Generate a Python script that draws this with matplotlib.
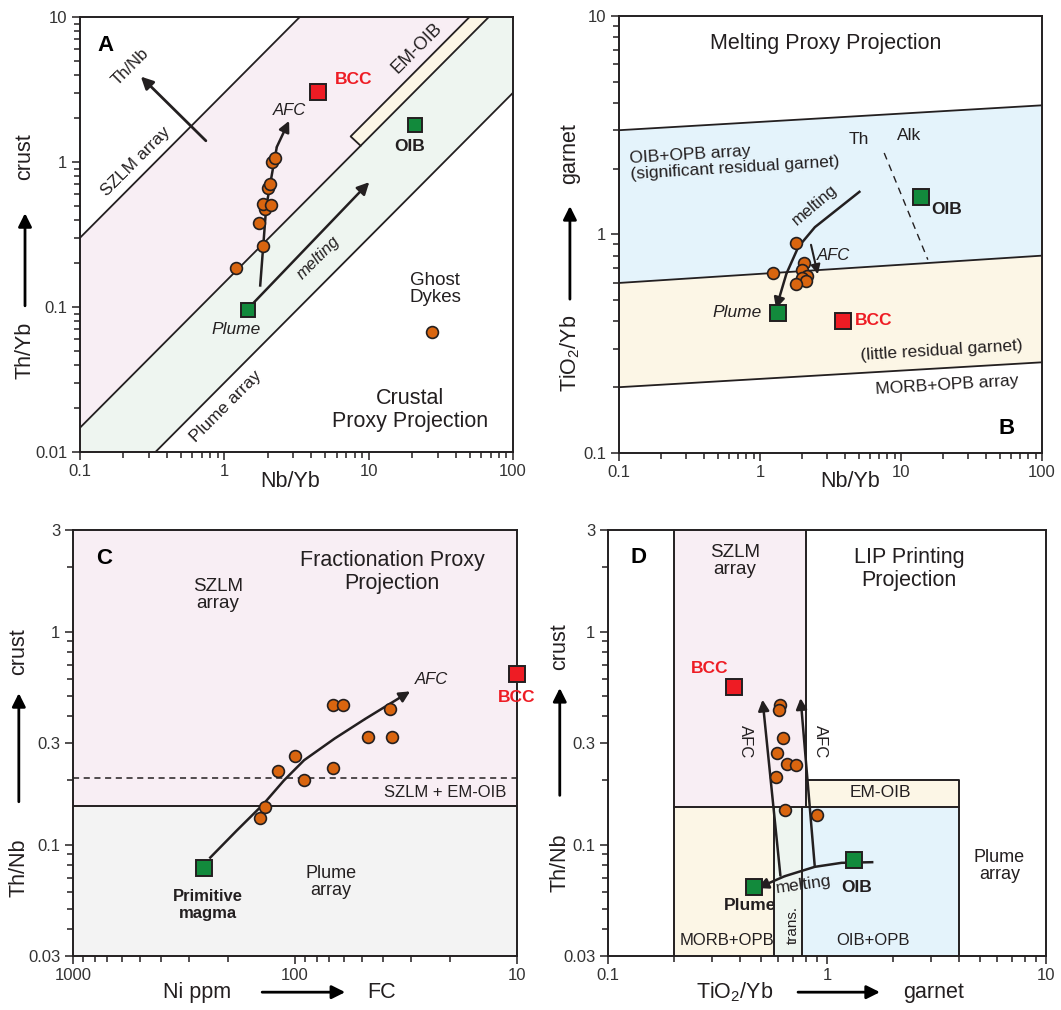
#!/usr/bin/env python3
"""
Four-panel proxy projection diagrams (crustal, melting, fractionation, LIP printing)
"""
import matplotlib
matplotlib.use('Agg')
import matplotlib.pyplot as plt
from matplotlib.ticker import NullFormatter

plt.rcParams['font.family'] = ['Liberation Sans', 'DejaVu Sans']
plt.rcParams['mathtext.fontset'] = 'custom'
plt.rcParams['mathtext.rm'] = 'Liberation Sans'
plt.rcParams['mathtext.it'] = 'Liberation Sans:italic'

# colours
PINK = '#f8eef4'
MINT = '#eef5f0'
CREAM = '#fcf6e6'
BLUE = '#e4f3fb'
GREY = '#f3f3f3'
ORANGE = '#d9650f'
SQ_GREEN = '#128a3c'
SQ_RED = '#ee1c24'
INK = '#231f20'

# ---------------- Panel A: Th/Yb vs Nb/Yb ----------------
a_nb = [1.21, 1.86, 1.75, 1.91, 1.86, 2.11, 2.02, 2.08, 2.13, 2.23]
a_th = [0.187, 0.265, 0.38, 0.475, 0.514, 0.506, 0.66, 0.70, 1.0, 1.07]
a_ghost_nb, a_ghost_th = [27.4], [0.0675]
a_bcc = (4.49, 3.05)
a_oib = (21.1, 1.81)
a_plume = (1.46, 0.095)
a_afc_nb = [1.77, 1.95, 2.14, 2.31, 2.81]
a_afc_th = [0.138, 0.487, 0.83, 1.27, 1.92]
a_melt = [(1.41, 0.094), (10.1, 0.726)]
a_thnb_arrow = [(0.745, 1.40), (0.264, 3.88)]
# array boundaries: Th/Yb = k * Nb/Yb
k_szlm, k_plume_hi, k_plume_lo, k_emoib = 3.0, 0.147, 0.03, 0.2
emoib_start, emoib_cap = 7.5, 8.8

# ---------------- Panel B: TiO2/Yb vs Nb/Yb ----------------
b_nb = [1.79, 1.23, 2.06, 1.97, 2.14, 2.0, 2.11, 1.81]
b_ti = [0.918, 0.667, 0.741, 0.69, 0.644, 0.634, 0.612, 0.591]
b_bcc = (3.87, 0.402)
b_oib = (13.9, 1.48)
b_plume = (1.34, 0.438)
b_upper = [(0.1, 3.0), (100, 3.9)]
b_middle = [(0.1, 0.6), (100, 0.8)]
b_lower = [(0.1, 0.2), (100, 0.26)]
b_thalk = [(7.6, 2.36), (15.5, 0.767)]
b_melt_nb = [5.15, 2.45, 1.87, 1.54, 1.30]
b_melt_ti = [1.58, 1.08, 0.877, 0.662, 0.458]
b_afc = [(2.30, 0.897), (2.57, 0.658)]

# ---------------- Panel C: Th/Nb vs Ni ppm ----------------
c_ni = [119.6, 100.3, 91.0, 67.5, 61.1, 67.5, 47.1, 36.5, 37.4, 136.2, 143.6]
c_thnb = [0.222, 0.261, 0.202, 0.452, 0.452, 0.229, 0.321, 0.321, 0.433, 0.150, 0.134]
c_bcc = (10.0, 0.633)
c_prim = (256.5, 0.0778)
c_afc_ni = [243, 183.6, 138.7, 112.2, 91.0, 66.2, 48.3, 30.3]
c_afc_thnb = [0.0861, 0.116, 0.155, 0.200, 0.249, 0.315, 0.389, 0.524]
c_szlm_floor = 0.152
c_emoib_line = 0.205

# ---------------- Panel D: Th/Nb vs TiO2/Yb ----------------
d_ti = [0.613, 0.602, 0.632, 0.590, 0.656, 0.726, 0.584, 0.646, 0.904]
d_thnb = [0.453, 0.428, 0.317, 0.269, 0.240, 0.236, 0.208, 0.146, 0.138]
d_bcc = (0.376, 0.55)
d_oib = (1.33, 0.0842)
d_plume = (0.466, 0.0632)
d_melt_ti = [1.63, 1.166, 0.879, 0.640, 0.482]
d_melt_thnb = [0.0827, 0.0821, 0.0786, 0.0710, 0.0625]
d_afc_left = [(0.613, 0.0715), (0.508, 0.479)]
d_afc_right = [(0.879, 0.0798), (0.758, 0.487)]
# region edges (TiO2/Yb, Th/Nb)
d_x_morb, d_x_trans, d_x_szlm, d_x_oib, d_x_max = 0.2, 0.575, 0.77, 4.0, 10
d_x_szlm_right = 0.805
d_y_plume_top, d_y_emoib_top = 0.15, 0.202


def style_axes(ax, xlim, ylim, xticks, xlabels, yticks, ylabels):
    ax.set_xscale('log')
    ax.set_yscale('log')
    ax.set_xlim(*xlim)
    ax.set_ylim(*ylim)
    ax.set_xticks(xticks, xlabels)
    ax.set_yticks(yticks, ylabels)
    ax.xaxis.set_minor_formatter(NullFormatter())
    ax.yaxis.set_minor_formatter(NullFormatter())
    ax.tick_params(which='both', direction='out', color=INK, labelcolor='#333333',
                   labelsize=12, width=1.1)
    ax.tick_params(which='major', length=6, pad=3)
    ax.tick_params(which='minor', length=4)
    for s in ax.spines.values():
        s.set_linewidth(1.4)
        s.set_color(INK)


def side_label(ax, x, y_lab, y0, y1, y_top, label, top):
    kw = dict(transform=ax.transAxes, rotation=90, ha='center', va='center',
              fontsize=15.5, color=INK)
    ax.text(x, y_lab, label, **kw)
    ax.text(x, y_top, top, **kw)
    ax.annotate('', xy=(x, y1), xytext=(x, y0), xycoords='axes fraction',
                arrowprops=dict(arrowstyle='-|>', color='black', lw=2.0,
                                mutation_scale=20, shrinkA=0, shrinkB=0))


def bottom_label(ax, y, x_lab, x0, x1, x_right, label, right):
    kw = dict(transform=ax.transAxes, ha='center', va='center', fontsize=15.5, color=INK)
    ax.text(x_lab, y, label, **kw)
    ax.text(x_right, y, right, **kw)
    ax.annotate('', xy=(x1, y), xytext=(x0, y), xycoords='axes fraction',
                arrowprops=dict(arrowstyle='-|>', color='black', lw=2.0,
                                mutation_scale=20, shrinkA=0, shrinkB=0))


def arrow(ax, start, end, lw=1.8, ms=16):
    ax.annotate('', xy=end, xytext=start,
                arrowprops=dict(arrowstyle='-|>', color=INK, lw=lw,
                                mutation_scale=ms, shrinkA=0, shrinkB=0), zorder=6)


def curve_arrow(ax, xs, ys, lw=1.8, ms=16):
    ax.plot(xs[:-1], ys[:-1], color=INK, lw=lw, zorder=6, solid_capstyle='butt')
    arrow(ax, (xs[-2], ys[-2]), (xs[-1], ys[-1]), lw=lw, ms=ms)


def samples(ax, xs, ys, clip=True):
    ax.plot(xs, ys, 'o', ms=8.5, mfc=ORANGE, mec=INK, mew=1.2, zorder=7, clip_on=clip)


def square(ax, pt, color, size=11.5, clip=True):
    ax.plot([pt[0]], [pt[1]], 's', ms=size, mfc=color, mec=INK, mew=1.4, zorder=8, clip_on=clip)


fig = plt.figure(figsize=(10.61, 10.10), dpi=100)
axA = fig.add_axes([0.0754, 0.5525, 0.4081, 0.4307])
axB = fig.add_axes([0.5834, 0.5515, 0.3987, 0.4327])
axC = fig.add_axes([0.0688, 0.0535, 0.4185, 0.4218])
axD = fig.add_axes([0.5730, 0.0535, 0.4128, 0.4218])

# ======================= A =======================
ax = axA
style_axes(ax, (0.1, 100), (0.01, 10), [0.1, 1, 10, 100], ['0.1', '1', '10', '100'],
           [0.01, 0.1, 1, 10], ['0.01', '0.1', '1', '10'])
x_szlm_top = 10 / k_szlm
x_emoib_top = 10 / k_emoib
x_plume_top = 10 / k_plume_hi
x_plume_bot = 0.01 / k_plume_lo
pink = [(0.1, 0.1 * k_szlm), (x_szlm_top, 10), (x_emoib_top, 10),
        (emoib_start, emoib_start * k_emoib), (emoib_cap, emoib_cap * k_plume_hi),
        (0.1, 0.1 * k_plume_hi)]
mint = [(0.1, 0.1 * k_plume_hi), (x_plume_top, 10), (100, 10), (100, 100 * k_plume_lo),
        (x_plume_bot, 0.01), (0.1, 0.01)]
emo = [(emoib_start, emoib_start * k_emoib), (x_emoib_top, 10), (x_plume_top, 10),
       (emoib_cap, emoib_cap * k_plume_hi)]
for poly, col in [(pink, PINK), (mint, MINT), (emo, CREAM)]:
    ax.fill([p[0] for p in poly], [p[1] for p in poly], color=col, lw=0, zorder=0)
ax.plot([0.1, x_szlm_top], [0.1 * k_szlm, 10], color=INK, lw=1.3)
ax.plot([0.1, x_plume_top], [0.1 * k_plume_hi, 10], color=INK, lw=1.3)
ax.plot([x_plume_bot, 100], [0.01, 100 * k_plume_lo], color=INK, lw=1.3)
ax.plot([emoib_cap, emoib_start, x_emoib_top],
        [emoib_cap * k_plume_hi, emoib_start * k_emoib, 10], color=INK, lw=1.3)

arrow(ax, a_thnb_arrow[0], a_thnb_arrow[1], lw=2.0, ms=18)
arrow(ax, a_melt[0], a_melt[1], lw=1.8, ms=18)
curve_arrow(ax, a_afc_nb, a_afc_th)
samples(ax, a_nb, a_th)
samples(ax, a_ghost_nb, a_ghost_th)
square(ax, a_bcc, SQ_RED, size=12)
square(ax, a_oib, SQ_GREEN, size=10)
square(ax, a_plume, SQ_GREEN, size=10)

ax.text(0.15, 6.4, 'A', fontsize=16, fontweight='bold', ha='center', va='center')
ax.text(7.83, 3.68, 'BCC', color=SQ_RED, fontsize=12.5, fontweight='bold', ha='center', va='center')
ax.text(19.1, 1.27, 'OIB', fontsize=12.5, fontweight='bold', ha='center', va='center', color=INK)
ax.text(1.2, 0.07, 'Plume', fontsize=12.5, style='italic', ha='center', va='center', color=INK)
ax.text(2.84, 2.28, 'AFC', fontsize=12, style='italic', ha='center', va='center', color=INK)
ax.text(4.49, 0.22, 'melting', fontsize=12, style='italic', rotation=45, ha='center', va='center', color=INK)
ax.text(0.225, 4.55, 'Th/Nb', fontsize=12, rotation=45, ha='center', va='center', color=INK)
ax.text(0.244, 1.0, 'SZLM array', fontsize=12.5, rotation=45, ha='center', va='center', color=INK)
ax.text(21.5, 6.1, 'EM-OIB', fontsize=13, rotation=45, ha='center', va='center', color=INK)
ax.text(1.02, 0.0206, 'Plume array', fontsize=12.5, rotation=45, ha='center', va='center', color=INK)
ax.text(28.9, 0.134, 'Ghost\nDykes', fontsize=13.5, ha='center', va='center', color=INK,
        linespacing=1.0)
ax.text(19.3, 0.0195, 'Crustal\nProxy Projection', fontsize=15.5, ha='center', va='center',
        color=INK, linespacing=1.1)
side_label(ax, -0.127, 0.234, 0.336, 0.549, 0.678, 'Th/Yb', 'crust')
ax.text(0.485, -0.069, 'Nb/Yb', transform=ax.transAxes, ha='center', va='center',
        fontsize=15.5, color=INK)

# ======================= B =======================
ax = axB
style_axes(ax, (0.1, 100), (0.1, 10), [0.1, 1, 10, 100], ['0.1', '1', '10', '100'],
           [0.1, 1, 10], ['0.1', '1', '10'])
bx = [b_upper[0][0], b_upper[1][0]]
ax.fill_between(bx, [b_middle[0][1], b_middle[1][1]], [b_upper[0][1], b_upper[1][1]],
                color=BLUE, lw=0, zorder=0)
ax.fill_between(bx, [b_lower[0][1], b_lower[1][1]], [b_middle[0][1], b_middle[1][1]],
                color=CREAM, lw=0, zorder=0)
for line in (b_upper, b_middle, b_lower):
    ax.plot([line[0][0], line[1][0]], [line[0][1], line[1][1]], color=INK, lw=1.3)
ax.plot([b_thalk[0][0], b_thalk[1][0]], [b_thalk[0][1], b_thalk[1][1]],
        color=INK, lw=1.0, ls=(0, (5, 4)))
curve_arrow(ax, b_melt_nb, b_melt_ti)
arrow(ax, b_afc[0], b_afc[1], lw=1.5, ms=14)
samples(ax, b_nb, b_ti)
square(ax, b_oib, SQ_GREEN)
square(ax, b_plume, SQ_GREEN)
square(ax, b_bcc, SQ_RED)

ax.text(2.94, 7.52, 'Melting Proxy Projection', fontsize=15.5, ha='center', va='center', color=INK)
ax.text(0.66, 2.18, 'OIB+OPB array\n(significant residual garnet)', fontsize=12.5,
        ha='center', va='center', rotation=3.5, color=INK, multialignment='left', linespacing=1.1)
ax.text(5.0, 2.72, 'Th', fontsize=12.5, ha='center', va='center', color=INK)
ax.text(11.5, 2.85, 'Alk', fontsize=12.5, ha='center', va='center', color=INK)
ax.text(2.45, 1.36, 'melting', fontsize=12, rotation=40, ha='center', va='center', color=INK)
ax.text(3.32, 0.80, 'AFC', fontsize=12, style='italic', ha='center', va='center', color=INK)
ax.text(20.9, 1.30, 'OIB', fontsize=12.5, fontweight='bold', ha='center', va='center', color=INK)
ax.text(0.69, 0.438, 'Plume', fontsize=12.5, style='italic', ha='center', va='center', color=INK)
ax.text(6.43, 0.405, 'BCC', color=SQ_RED, fontsize=12.5, fontweight='bold', ha='center', va='center')
ax.text(19.3, 0.295, '(little residual garnet)', fontsize=12.5, rotation=3.5,
        ha='center', va='center', color=INK)
ax.text(21.2, 0.204, 'MORB+OPB array', fontsize=12.5, rotation=3.5,
        ha='center', va='center', color=INK)
ax.text(56.4, 0.130, 'B', fontsize=16, fontweight='bold', ha='center', va='center')
side_label(ax, -0.116, 0.227, 0.352, 0.565, 0.686, 'TiO$_{\\rm 2}$/Yb', 'garnet')
ax.text(0.546, -0.066, 'Nb/Yb', transform=ax.transAxes, ha='center', va='center',
        fontsize=15.5, color=INK)

# ======================= C =======================
ax = axC
style_axes(ax, (1000, 10), (0.03, 3), [1000, 100, 10], ['1000', '100', '10'],
           [0.03, 0.1, 0.3, 1, 3], ['0.03', '0.1', '0.3', '1', '3'])
ax.axhspan(c_szlm_floor, 3, color=PINK, lw=0, zorder=0)
ax.axhspan(0.03, c_szlm_floor, color=GREY, lw=0, zorder=0)
ax.axhline(c_szlm_floor, color=INK, lw=1.4)
ax.axhline(c_emoib_line, color=INK, lw=1.1, ls=(0, (4, 3)))
curve_arrow(ax, c_afc_ni, c_afc_thnb)
samples(ax, c_ni, c_thnb)
square(ax, c_prim, SQ_GREEN)
square(ax, c_bcc, SQ_RED, clip=False)

ax.text(724, 2.2, 'C', fontsize=16, fontweight='bold', ha='center', va='center')
ax.text(223, 1.48, 'SZLM\narray', fontsize=13.5, ha='center', va='center', color=INK, linespacing=1.0)
ax.text(36.5, 1.9, 'Fractionation Proxy\nProjection', fontsize=15.5, ha='center', va='center',
        color=INK, linespacing=1.1)
ax.text(24.3, 0.595, 'AFC', fontsize=12, style='italic', ha='center', va='center', color=INK)
ax.text(10.0, 0.49, 'BCC', color=SQ_RED, fontsize=12.5, fontweight='bold', ha='center',
        va='center', clip_on=False)
ax.text(21.1, 0.176, 'SZLM + EM-OIB', fontsize=12, ha='center', va='center', color=INK)
ax.text(68.7, 0.0666, 'Plume\narray', fontsize=13, ha='center', va='center', color=INK, linespacing=1.0)
ax.text(247.6, 0.0521, 'Primitive\nmagma', fontsize=12, fontweight='bold', ha='center',
        va='center', color=INK, linespacing=1.1)
side_label(ax, -0.122, 0.207, 0.362, 0.617, 0.714, 'Th/Nb', 'crust')
bottom_label(ax, -0.085, 0.279, 0.426, 0.613, 0.696, 'Ni ppm', 'FC')

# ======================= D =======================
ax = axD
style_axes(ax, (0.1, 10), (0.03, 3), [0.1, 1, 10], ['0.1', '1', '10'],
           [0.03, 0.1, 0.3, 1, 3], ['0.03', '0.1', '0.3', '1', '3'])
ax.fill_between([d_x_morb, d_x_szlm_right], d_y_plume_top, 3, color=PINK, lw=0, zorder=0)
ax.fill_between([d_x_szlm_right, d_x_oib], d_y_plume_top, d_y_emoib_top, color=CREAM, lw=0, zorder=0)
ax.fill_between([d_x_morb, d_x_trans], 0.03, d_y_plume_top, color=CREAM, lw=0, zorder=0)
ax.fill_between([d_x_trans, d_x_szlm], 0.03, d_y_plume_top, color=MINT, lw=0, zorder=0)
ax.fill_between([d_x_szlm, d_x_oib], 0.03, d_y_plume_top, color=BLUE, lw=0, zorder=0)
lk = dict(color=INK, lw=1.4)
ax.plot([d_x_morb, d_x_morb], [0.03, 3], **lk)
ax.plot([d_x_szlm_right, d_x_szlm_right], [d_y_plume_top, 3], **lk)
ax.plot([d_x_morb, d_x_oib], [d_y_plume_top, d_y_plume_top], **lk)
ax.plot([d_x_szlm_right, d_x_oib, d_x_oib], [d_y_emoib_top, d_y_emoib_top, 0.03], **lk)
ax.plot([d_x_trans, d_x_trans], [0.03, d_y_plume_top], **lk)
ax.plot([d_x_szlm, d_x_szlm], [0.03, d_y_plume_top], **lk)

ax.text(0.785, 0.0648, 'melting', fontsize=12.5, rotation=8, ha='center', va='center',
        color=INK, zorder=5)
curve_arrow(ax, d_melt_ti, d_melt_thnb)
arrow(ax, d_afc_left[0], d_afc_left[1], lw=1.8, ms=16)
arrow(ax, d_afc_right[0], d_afc_right[1], lw=1.8, ms=16)
samples(ax, d_ti, d_thnb)
square(ax, d_bcc, SQ_RED)
square(ax, d_oib, SQ_GREEN)
square(ax, d_plume, SQ_GREEN)

ax.text(0.1374, 2.22, 'D', fontsize=16, fontweight='bold', ha='center', va='center')
ax.text(0.379, 2.15, 'SZLM\narray', fontsize=13.5, ha='center', va='center', color=INK, linespacing=1.0)
ax.text(2.37, 1.97, 'LIP Printing\nProjection', fontsize=15.5, ha='center', va='center',
        color=INK, linespacing=1.1)
ax.text(0.292, 0.669, 'BCC', color=SQ_RED, fontsize=12.5, fontweight='bold', ha='center', va='center')
ax.text(1.37, 0.063, 'OIB', fontsize=12.5, fontweight='bold', ha='center', va='center', color=INK)
ax.text(0.446, 0.052, 'Plume', fontsize=12.5, fontweight='bold', ha='center', va='center', color=INK)
ax.text(0.426, 0.304, 'AFC', fontsize=12, rotation=-90, ha='center', va='center', color=INK)
ax.text(0.937, 0.304, 'AFC', fontsize=12, rotation=-90, ha='center', va='center', color=INK)
ax.text(1.75, 0.176, 'EM-OIB', fontsize=12.5, ha='center', va='center', color=INK)
ax.text(0.351, 0.0356, 'MORB+OPB', fontsize=12, ha='center', va='center', color=INK)
ax.text(1.615, 0.0356, 'OIB+OPB', fontsize=12, ha='center', va='center', color=INK)
ax.text(0.699, 0.0419, 'trans.', fontsize=11, rotation=90, ha='center', va='center', color=INK)
ax.text(6.14, 0.0792, 'Plume\narray', fontsize=13, ha='center', va='center', color=INK, linespacing=1.0)
side_label(ax, -0.110, 0.218, 0.377, 0.629, 0.725, 'Th/Nb', 'crust')
bottom_label(ax, -0.085, 0.290, 0.434, 0.621, 0.744, 'TiO$_{\\rm 2}$/Yb', 'garnet')

fig.savefig('out.png', dpi=100)
print("saved out.png")
